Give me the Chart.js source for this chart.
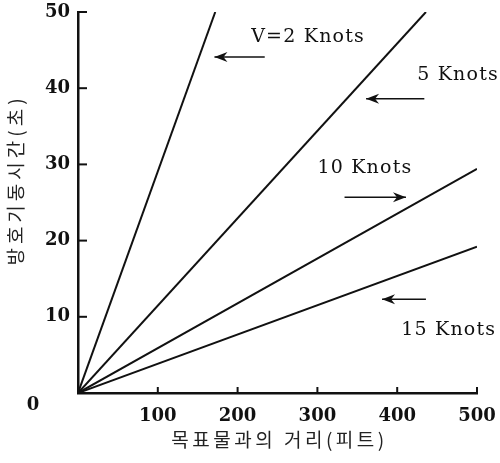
<!DOCTYPE html>
<html>
<head>
<meta charset="utf-8">
<script src="https://cdn.jsdelivr.net/npm/chart.js@4"></script>
<style>
  html, body { margin: 0; padding: 0; background: #fff; }
  #wrap { width: 500px; height: 463px; }
</style>
</head>
<body>
<div id="wrap"><canvas id="chart" width="500" height="463"></canvas></div>
<script>
// data (distance in feet, time in seconds)
const speedLabels = ['V=2 Knots', '5 Knots', '10 Knots', '15 Knots'];
const endDistance = [172, 436, 500, 500];
const endTime = [50, 50, 29.4, 19.2];

const xTicks = [0, 100, 200, 300, 400, 500];
const yTicks = [0, 10, 20, 30, 40, 50];

const xTitle = '목표물과의 거리(피트)';
const yTitle = '방호기동시간(초)';

// label anchors in data units: [textX, textY, arrowTailX, arrowTailY, arrowTipX, arrowTipY]
const labelSpots = [
    [217, 46.7, 234, 44.1, 171, 44.1],
    [425, 41.7, 434, 38.6, 361, 38.6],
    [300, 29.5, 334, 25.7, 411, 25.7],
    [405, 8.3, 436, 12.3, 381, 12.3],
];

const serif = '"DejaVu Serif", serif';
const korean = '"Noto Sans CJK KR", sans-serif';

let datasets = speedLabels.map((name, i) => ({
    label: name,
    data: [{ x: 0, y: 0 }, { x: endDistance[i], y: endTime[i] }],
    showLine: true,
    borderColor: '#111',
    borderWidth: 2,
    pointRadius: 0,
}));

function drawArrow(ctx, x1, y1, x2, y2) {
    ctx.beginPath();
    ctx.moveTo(x1, y1);
    ctx.lineTo(x2, y2);
    ctx.stroke();
    let dir = x2 > x1 ? 1 : -1;
    ctx.beginPath();
    ctx.moveTo(x2, y2);
    ctx.lineTo(x2 - dir * 13, y2 - 5);
    ctx.lineTo(x2 - dir * 9, y2);
    ctx.lineTo(x2 - dir * 13, y2 + 5);
    ctx.closePath();
    ctx.fill();
}

const extras = {
    id: 'extras',
    afterDraw(chart) {
        let ctx = chart.ctx;
        let xs = chart.scales.x, ys = chart.scales.y;
        let area = chart.chartArea;
        ctx.save();
        ctx.strokeStyle = '#111';
        ctx.fillStyle = '#111';
        ctx.lineWidth = 2;
        // inward tick marks
        yTicks.forEach(v => {
            let py = ys.getPixelForValue(v);
            ctx.beginPath();
            ctx.moveTo(area.left, py);
            ctx.lineTo(area.left + 9, py);
            ctx.stroke();
        });
        xTicks.forEach(v => {
            let px = xs.getPixelForValue(v);
            ctx.beginPath();
            ctx.moveTo(px, area.bottom);
            ctx.lineTo(px, area.bottom - 6);
            ctx.stroke();
        });
        // origin label
        ctx.font = 'bold 18px ' + serif;
        ctx.textAlign = 'center';
        ctx.textBaseline = 'middle';
        ctx.fillText('0', area.left - 45, area.bottom + 12);
        // axis titles
        ctx.fillStyle = '#222';
        ctx.font = '19px ' + korean;
        ctx.letterSpacing = '3.5px';
        ctx.fillText(xTitle, (area.left + area.right) / 2 + 2, 440);
        ctx.save();
        ctx.translate(16, 180);
        ctx.rotate(-Math.PI / 2);
        ctx.letterSpacing = '4px';
        ctx.fillText(yTitle, 0, 0);
        ctx.restore();
        // speed labels and arrows
        ctx.fillStyle = '#111';
        ctx.font = '19px ' + serif;
        ctx.letterSpacing = '1.2px';
        ctx.textAlign = 'left';
        labelSpots.forEach((s, i) => {
            ctx.fillText(speedLabels[i], xs.getPixelForValue(s[0]), ys.getPixelForValue(s[1]));
            ctx.lineWidth = 1.5;
            drawArrow(ctx,
                xs.getPixelForValue(s[2]), ys.getPixelForValue(s[3]),
                xs.getPixelForValue(s[4]), ys.getPixelForValue(s[5]));
        });
        ctx.restore();
    },
};

new Chart(document.getElementById('chart'), {
    type: 'scatter',
    data: { datasets: datasets },
    options: {
        responsive: false,
        animation: false,
        layout: { padding: { left: 0, top: 12, right: 23, bottom: 0 } },
        plugins: { legend: { display: false }, tooltip: { enabled: false } },
        scales: {
            x: {
                type: 'linear',
                min: 0,
                max: 500,
                afterFit: (scale) => {
                    scale.height = 70;
                    scale.paddingLeft = 0;
                    scale.paddingRight = 0;
                },
                afterBuildTicks: (scale) => { scale.ticks = xTicks.map(v => ({ value: v })); },
                grid: { display: false, drawTicks: false },
                border: { display: true, color: '#111', width: 2.5 },
                ticks: {
                    color: '#111',
                    padding: 13,
                    font: { family: serif, size: 18, weight: 'bold' },
                    callback: (v) => (v === 0 ? '' : v),
                },
            },
            y: {
                type: 'linear',
                min: 0,
                max: 50,
                afterFit: (scale) => {
                    scale.width = 78;
                    scale.paddingTop = 0;
                    scale.paddingBottom = 0;
                },
                afterBuildTicks: (scale) => { scale.ticks = yTicks.map(v => ({ value: v })); },
                grid: { display: false, drawTicks: false },
                border: { display: true, color: '#111', width: 2.5 },
                ticks: {
                    color: '#111',
                    padding: 8,
                    font: { family: serif, size: 18, weight: 'bold' },
                    callback: (v) => (v === 0 ? '' : v),
                },
            },
        },
    },
    plugins: [extras],
});
</script>
</body>
</html>
